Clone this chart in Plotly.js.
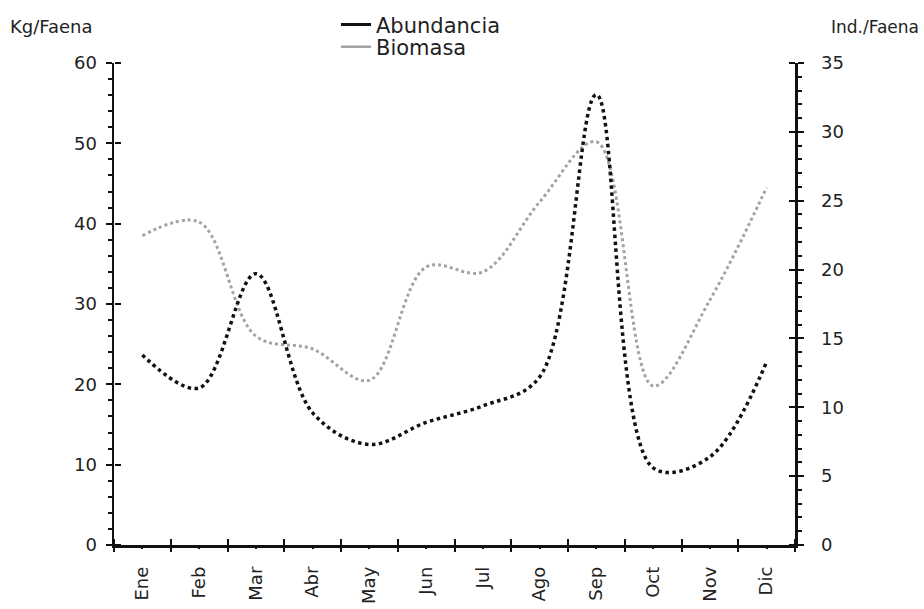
<!DOCTYPE html>
<html>
<head>
<meta charset="utf-8">
<script src="https://cdn.plot.ly/plotly-3.0.1.min.js"></script>
<style>html,body{margin:0;padding:0;background:#fff;}#chart{width:924px;height:609px;}</style>
</head>
<body>
<div id="chart"></div>
<script>
const months = ["Ene","Feb","Mar","Abr","May","Jun","Jul","Ago","Sep","Oct","Nov","Dic"];
const biomasa = [38.5, 40.2, 26.0, 24.4, 20.5, 34.6, 34.0, 42.7, 50.2, 19.8, 30.5, 44.5];     // Kg/Faena
const abundancia = [13.8, 11.4, 19.7, 9.6, 7.3, 8.9, 10.1, 12.2, 32.7, 5.6, 6.4, 13.3];       // Ind./Faena
const leftStep = 10, leftMax = 60, leftMinorStep = 2;
const rightStep = 5, rightMax = 35, rightMinorStep = 1;

const FONT = "DejaVu Sans, Verdana, sans-serif";
const BLACK = "#111111";
const GRAY = "#a3a3a3";
const TXT = "#222222";

const helper = (xa, ya) => ({x: [null], y: [null], xaxis: xa, yaxis: ya, mode: "lines",
  showlegend: false, hoverinfo: "skip", line: {width: 0}});

const traces = [
  {x: months, y: biomasa, xaxis: "x", yaxis: "y", mode: "lines", showlegend: false,
   line: {shape: "spline", smoothing: 1.0, dash: "dot", color: GRAY, width: 3}},
  {x: months, y: abundancia, xaxis: "x", yaxis: "y2", mode: "lines", showlegend: false,
   line: {shape: "spline", smoothing: 1.0, dash: "dot", color: BLACK, width: 3.5}},
  {x: [null], y: [null], xaxis: "x", yaxis: "y", mode: "lines", name: "Abundancia", legend: "legend",
   line: {color: BLACK, width: 3}},
  {x: [null], y: [null], xaxis: "x", yaxis: "y", mode: "lines", name: "Biomasa", legend: "legend2",
   line: {color: GRAY, width: 2.5}},
  helper("x2", "y"), helper("x3", "y"), helper("x", "y3"), helper("x", "y4")
];

const tickBase = {tickcolor: BLACK, tickwidth: 2, ticklen: 6, showgrid: false, zeroline: false, fixedrange: true};
const legBase = {xanchor: "left", yanchor: "middle", font: {size: 21, color: TXT},
                 bgcolor: "rgba(0,0,0,0)", itemwidth: 30, borderwidth: 0};

const layout = {
  width: 924, height: 609,
  margin: {l: 114, r: 129, t: 63, b: 64, pad: 0, autoexpand: false},
  paper_bgcolor: "#fff", plot_bgcolor: "#fff",
  font: {family: FONT, size: 18, color: TXT},
  showlegend: true,
  legend: Object.assign({}, legBase, {x: 0.326, y: 1.079}),
  legend2: Object.assign({}, legBase, {x: 0.326, y: 1.033}),
  xaxis: {type: "category", categoryorder: "array", categoryarray: months, range: [-0.5, 11.5],
          showline: true, linecolor: BLACK, linewidth: 2.5, ticks: "", tickangle: -90, ticklabelstandoff: 12,
          tickfont: {size: 18}, showgrid: false, zeroline: false, anchor: "y", fixedrange: true},
  xaxis2: Object.assign({}, tickBase, {overlaying: "x", anchor: "y", side: "bottom", range: [-0.5, 11.5],
          tickmode: "linear", tick0: -0.5, dtick: 1, ticks: "outside", showticklabels: false, showline: false,
          minor: {tickmode: "linear", tick0: 0, dtick: 1, ticks: "outside", ticklen: 3, tickwidth: 2, tickcolor: BLACK}}),
  xaxis3: Object.assign({}, tickBase, {overlaying: "x", anchor: "free", position: 0, side: "top", range: [-0.5, 11.5],
          tickmode: "linear", tick0: -0.5, dtick: 1, ticks: "outside", showticklabels: false, showline: false}),
  yaxis: Object.assign({}, tickBase, {range: [0, leftMax], tickmode: "linear", tick0: 0, dtick: leftStep,
          ticks: "outside", showline: true, linecolor: BLACK, linewidth: 2.5, ticklabelstandoff: 5, tickfont: {size: 18},
          minor: {tickmode: "linear", tick0: 0, dtick: leftMinorStep, ticks: "outside", ticklen: 4, tickwidth: 2, tickcolor: BLACK}}),
  yaxis3: Object.assign({}, tickBase, {overlaying: "y", side: "right", anchor: "free", position: 0, range: [0, leftMax],
          tickmode: "linear", tick0: 0, dtick: leftStep, ticks: "outside", showticklabels: false, showline: false}),
  yaxis2: Object.assign({}, tickBase, {overlaying: "y", side: "right", anchor: "x", range: [0, rightMax],
          tickmode: "linear", tick0: 0, dtick: rightStep,
          ticks: "outside", showline: true, linecolor: BLACK, linewidth: 2.5, ticklabelstandoff: 14, tickfont: {size: 18},
          minor: {tickmode: "linear", tick0: 0, dtick: rightMinorStep, ticks: "outside", ticklen: 4, tickwidth: 2, tickcolor: BLACK}}),
  yaxis4: Object.assign({}, tickBase, {overlaying: "y", side: "left", anchor: "free", position: 1, range: [0, rightMax],
          tickmode: "linear", tick0: 0, dtick: rightStep, ticks: "outside", showticklabels: false, showline: false}),
  annotations: [
    {text: "Kg/Faena", xref: "paper", yref: "paper", x: -0.156, y: 1.075, xanchor: "left", yanchor: "middle",
     showarrow: false, font: {size: 18, color: TXT}},
    {text: "Ind./Faena", xref: "paper", yref: "paper", x: 1.05, y: 1.075, xanchor: "left", yanchor: "middle",
     showarrow: false, font: {size: 17, color: TXT}}
  ]
};

Plotly.newPlot("chart", traces, layout, {displayModeBar: false, staticPlot: true});
</script>
</body>
</html>
